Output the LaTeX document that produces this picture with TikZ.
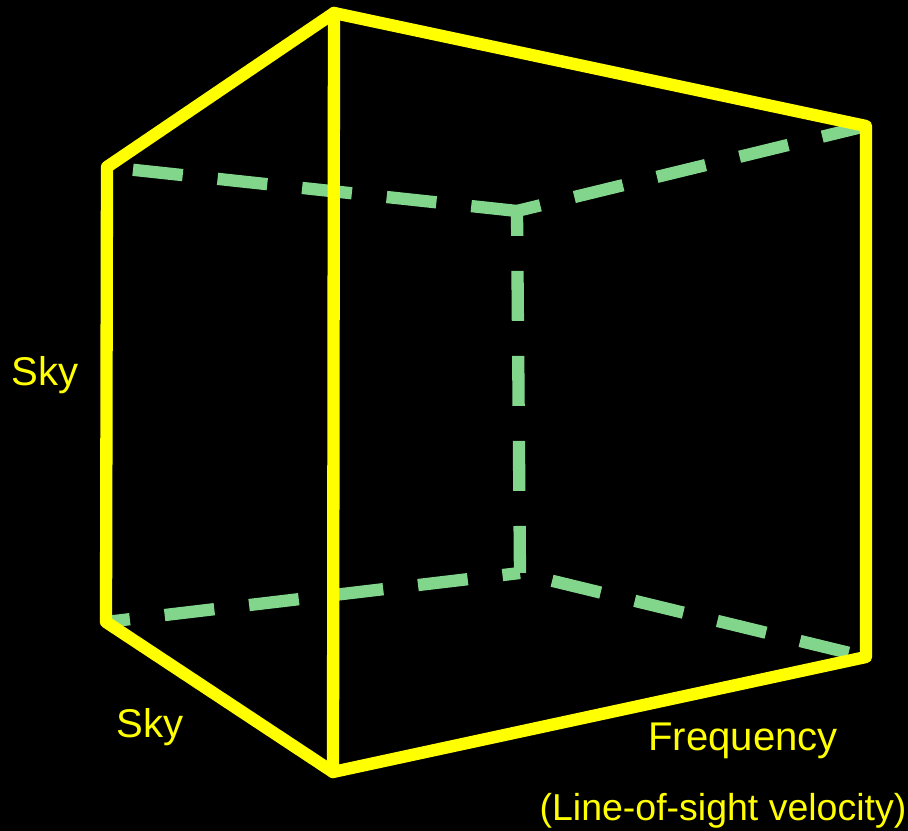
\documentclass[tikz,border=0pt]{standalone}
\usepackage{xcolor}
\usepackage{fontspec}
\setmainfont{Liberation Sans}
\definecolor{cubeyellow}{HTML}{FFFF00}
\definecolor{backgreen}{HTML}{82D68C}
\begin{document}
\begin{tikzpicture}[
        x=0.01cm, y=-0.01cm,
        frontedge/.style = {draw=cubeyellow, line width=3.5pt, line cap=round, line join=round},
        backdash/.style = {draw=backgreen, line width=3.5pt, dash pattern=on 0.5cm off 0.35cm},
        axislabel/.style = {text=cubeyellow, font=\fontsize{11.4pt}{13pt}\selectfont, inner sep=0pt}
    ]
    \fill[black] (0,0) rectangle (908,831);
    \useasboundingbox (0,0) rectangle (908,831);

    % corners of the cube
    \coordinate (topfront) at (334,13);
    \coordinate (topright) at (866,126);
    \coordinate (topleft) at (107,167);
    \coordinate (botfront) at (333,772);
    \coordinate (botright) at (866,657);
    \coordinate (botleft) at (106,622);
    \coordinate (backtop) at (517,211);
    \coordinate (backbot) at (520,573);

    % hidden edges
    \draw[backdash, dash phase=0.04cm] (backtop) -- (topleft);
    \draw[backdash, dash phase=0.05cm] (topright) -- (backtop);
    \draw[backdash, dash phase=0.03cm] (backbot) -- (backtop);
    \draw[backdash, dash phase=0.26cm] (botleft) -- (backbot);
    \draw[backdash, dash phase=0.52cm] (backbot) -- (botright);

    % visible edges
    \draw[frontedge] (topleft) -- (topfront) -- (topright) -- (botright) -- (botfront) -- (botleft) -- cycle;
    \draw[frontedge] (topfront) -- (botfront);

    \node[axislabel] (skyleft) at (45,375) {Sky};
    \node[axislabel] (skybottom) at (150,727) {Sky};
    \node[axislabel] (freq) at (743,741) {Frequency};
    \node[axislabel, font=\fontsize{10.66pt}{13pt}\selectfont] (velocity) at (723,811) {(Line-of-sight velocity)};
\end{tikzpicture}
\end{document}
